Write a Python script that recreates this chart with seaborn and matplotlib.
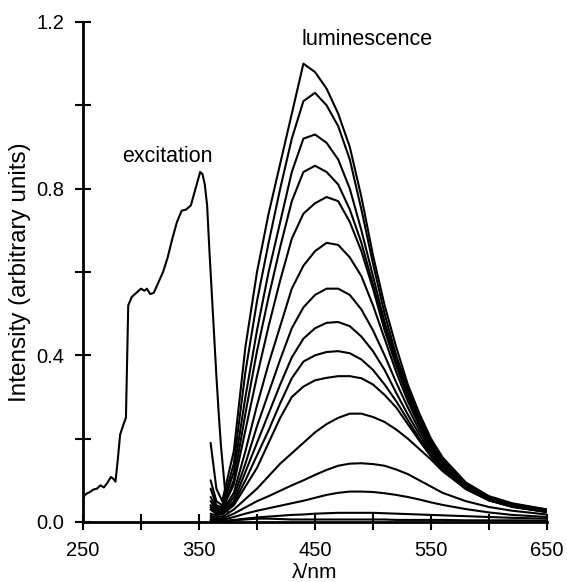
import numpy as np
import pandas as pd
import seaborn as sns
import matplotlib.pyplot as plt

# excitation spectrum
ex_nm = [250, 253, 256, 259, 262, 265, 268, 271, 274, 276, 278, 280, 282, 285, 287,
         289, 292, 296, 300, 303, 305, 308, 311, 315, 319, 323, 327, 331, 335, 339,
         343, 345, 348, 351, 353, 355, 357, 359, 361, 363, 365, 367, 369, 371, 373, 375]
ex_val = [0.060, 0.068, 0.072, 0.078, 0.080, 0.088, 0.083, 0.094, 0.108, 0.104, 0.097,
          0.150, 0.210, 0.235, 0.250, 0.520, 0.540, 0.550, 0.560, 0.555, 0.560, 0.547,
          0.550, 0.575, 0.600, 0.635, 0.680, 0.720, 0.747, 0.750, 0.760, 0.780, 0.810,
          0.840, 0.835, 0.810, 0.760, 0.650, 0.550, 0.450, 0.350, 0.260, 0.180, 0.120,
          0.060, 0.020]

# luminescence spectra, one list per trace, all on the same wavelength grid
lum_nm = [360, 365, 370, 380, 390, 400, 410, 420, 430, 440, 450, 460, 470, 480, 490,
          500, 510, 520, 530, 540, 550, 560, 580, 600, 620, 650]
lum_1 = [0.19, 0.08, 0.05, 0.17, 0.42, 0.60, 0.74, 0.86, 0.98, 1.10, 1.08, 1.04, 0.98,
         0.90, 0.78, 0.64, 0.52, 0.42, 0.33, 0.26, 0.20, 0.155, 0.095, 0.062, 0.045, 0.030]
lum_2 = [0.10, 0.05, 0.04, 0.14, 0.36, 0.53, 0.67, 0.80, 0.92, 1.01, 1.03, 1.00, 0.95,
         0.87, 0.75, 0.62, 0.50, 0.40, 0.32, 0.25, 0.195, 0.150, 0.092, 0.060, 0.043, 0.030]
lum_3 = [0.08, 0.04, 0.035, 0.12, 0.30, 0.46, 0.60, 0.72, 0.84, 0.92, 0.93, 0.91, 0.87,
         0.80, 0.70, 0.59, 0.48, 0.39, 0.31, 0.245, 0.19, 0.145, 0.090, 0.058, 0.042, 0.028]
lum_4 = [0.06, 0.035, 0.03, 0.10, 0.26, 0.41, 0.54, 0.66, 0.77, 0.84, 0.855, 0.84, 0.81,
         0.75, 0.67, 0.57, 0.47, 0.38, 0.305, 0.24, 0.185, 0.140, 0.088, 0.057, 0.040, 0.027]
lum_5 = [0.05, 0.03, 0.03, 0.09, 0.22, 0.35, 0.47, 0.58, 0.68, 0.74, 0.765, 0.78, 0.77,
         0.72, 0.65, 0.56, 0.46, 0.375, 0.30, 0.235, 0.18, 0.140, 0.086, 0.056, 0.040, 0.026]
lum_6 = [0.04, 0.03, 0.025, 0.07, 0.17, 0.28, 0.38, 0.47, 0.56, 0.615, 0.65, 0.67, 0.665,
         0.635, 0.59, 0.52, 0.44, 0.36, 0.29, 0.23, 0.178, 0.138, 0.085, 0.055, 0.039, 0.026]
lum_7 = [0.04, 0.025, 0.022, 0.06, 0.14, 0.23, 0.31, 0.39, 0.465, 0.515, 0.545, 0.56, 0.56,
         0.545, 0.51, 0.46, 0.40, 0.335, 0.275, 0.22, 0.172, 0.134, 0.083, 0.054, 0.038, 0.025]
lum_8 = [0.035, 0.02, 0.02, 0.05, 0.12, 0.19, 0.26, 0.33, 0.395, 0.44, 0.465, 0.478, 0.48,
         0.47, 0.445, 0.41, 0.365, 0.31, 0.258, 0.21, 0.165, 0.130, 0.081, 0.053, 0.037, 0.025]
lum_9 = [0.03, 0.02, 0.018, 0.045, 0.10, 0.16, 0.22, 0.285, 0.345, 0.385, 0.40, 0.408, 0.41,
         0.405, 0.39, 0.365, 0.33, 0.29, 0.245, 0.20, 0.16, 0.126, 0.080, 0.052, 0.037, 0.024]
lum_10 = [0.03, 0.02, 0.018, 0.04, 0.085, 0.13, 0.19, 0.25, 0.30, 0.325, 0.34, 0.346, 0.35,
          0.35, 0.345, 0.33, 0.305, 0.275, 0.235, 0.195, 0.157, 0.124, 0.079, 0.052, 0.037, 0.024]
lum_11 = [0.02, 0.015, 0.012, 0.03, 0.055, 0.08, 0.11, 0.14, 0.165, 0.19, 0.215, 0.235, 0.25,
          0.26, 0.26, 0.252, 0.24, 0.222, 0.20, 0.175, 0.15, 0.122, 0.080, 0.052, 0.036, 0.024]
lum_12 = [0.015, 0.01, 0.008, 0.02, 0.035, 0.05, 0.062, 0.075, 0.088, 0.10, 0.113, 0.125, 0.135,
          0.14, 0.141, 0.139, 0.135, 0.126, 0.115, 0.10, 0.085, 0.070, 0.050, 0.036, 0.027, 0.018]
lum_13 = [0.01, 0.006, 0.005, 0.012, 0.02, 0.027, 0.033, 0.039, 0.045, 0.051, 0.058, 0.065, 0.07,
          0.073, 0.073, 0.072, 0.069, 0.065, 0.06, 0.054, 0.047, 0.041, 0.031, 0.023, 0.017, 0.012]
lum_14 = [0.005, 0.003, 0.002, 0.005, 0.008, 0.011, 0.013, 0.015, 0.017, 0.018, 0.02, 0.021, 0.022,
          0.022, 0.022, 0.022, 0.021, 0.02, 0.019, 0.018, 0.017, 0.016, 0.014, 0.012, 0.010, 0.008]
lum_15 = [0.004, 0.003, 0.002, 0.004, 0.006, 0.008, 0.008, 0.007, 0.006, 0.006, 0.006, 0.006, 0.006,
          0.006, 0.006, 0.006, 0.006, 0.005, 0.005, 0.005, 0.005, 0.005, 0.004, 0.004, 0.004, 0.003]
lum_traces = [lum_1, lum_2, lum_3, lum_4, lum_5, lum_6, lum_7, lum_8, lum_9, lum_10,
              lum_11, lum_12, lum_13, lum_14, lum_15]

x_ticks = [250, 300, 350, 400, 450, 500, 550, 600, 650]
x_labels = ["250", "", "350", "", "450", "", "550", "", "650"]
y_ticks = [0.0, 0.2, 0.4, 0.6, 0.8, 1.0, 1.2]
y_labels = ["0.0", "", "0.4", "", "0.8", "", "1.2"]

# long table for seaborn
rows = []
for i, tr in enumerate(lum_traces):
    for w, v in zip(lum_nm, tr):
        rows.append({"nm": w, "I": v, "trace": i})
lum = pd.DataFrame(rows)
exc = pd.DataFrame({"nm": ex_nm, "I": ex_val})

sns.set_theme(style="ticks")
plt.rcParams['font.family'] = ['Liberation Sans', 'DejaVu Sans']
plt.rcParams['text.color'] = 'black'
plt.rcParams['axes.labelcolor'] = 'black'

fig = plt.figure(figsize=(5.67, 5.82), dpi=100)
ax = fig.add_axes([0.1464, 0.1031, 0.8183, 0.8591])

sns.lineplot(data=exc, x="nm", y="I", color="black", linewidth=1.5, ax=ax)
sns.lineplot(data=lum, x="nm", y="I", units="trace", estimator=None,
             color="black", linewidth=1.5, ax=ax)

ax.set_xlim(250, 650)
ax.set_ylim(0, 1.2)
ax.set_xticks(x_ticks)
ax.set_xticklabels(x_labels)
ax.set_yticks(y_ticks)
ax.set_yticklabels(y_labels)
ax.tick_params(direction="inout", length=11, width=1.5, labelsize=14.5, color="black",
               labelcolor="black")
ax.tick_params(axis="x", pad=8)
ax.tick_params(axis="y", pad=8)
sns.despine(ax=ax)
for s in ["left", "bottom"]:
    ax.spines[s].set_linewidth(2)
    ax.spines[s].set_color("black")

ax.set_xlabel("λ/nm", fontsize=15, labelpad=2, color="black")
ax.set_ylabel("Intensity (arbitrary units)", fontsize=17.5, labelpad=4, color="black")

ax.text(323, 0.878, "excitation", fontsize=15.5, ha="center", va="center", color="black")
ax.text(495, 1.157, "luminescence", fontsize=15.5, ha="center", va="center", color="black")

fig.savefig("out.png", dpi=100)
